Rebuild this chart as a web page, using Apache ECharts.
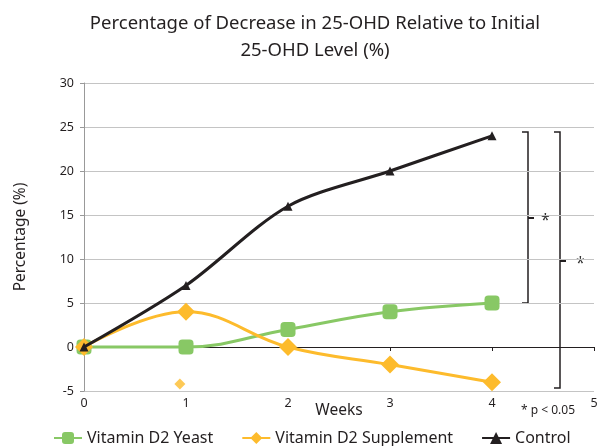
<!DOCTYPE html>
<html>
<head>
<meta charset="utf-8">
<script src="https://cdn.jsdelivr.net/npm/echarts@6/dist/echarts.min.js"></script>
<style>
  html, body { margin: 0; padding: 0; background: #fff; }
  #chart { width: 599px; height: 446px; }
</style>
</head>
<body>
<div id="chart"></div>
<script>
// 数据
const weeks = [0, 1, 2, 3, 4];
const yeast = [0, 0, 2, 4, 5];
const supplement = [0, 4, 0, -2, -4];
const control = [0, 7, 16, 20, 24];
// 图中多出来的一个黄色菱形点
const strayPoint = [[0.94, -4.2]];

const pair = (ys) => weeks.map((w, i) => [w, ys[i]]);
const font = 'Noto Sans';

const chart = echarts.init(document.getElementById('chart'));

// 右侧括号（注释）
function bracket(x, yTop, yBot, yMid, starX) {
  return [
    {
      type: 'polyline',
      shape: { points: [[x - 6, yTop], [x, yTop], [x, yBot], [x - 6, yBot]] },
      style: { stroke: '#231f20', lineWidth: 1.5, fill: null }
    },
    {
      type: 'line',
      shape: { x1: x, y1: yMid, x2: x + 6, y2: yMid },
      style: { stroke: '#231f20', lineWidth: 2 }
    },
    {
      type: 'text',
      x: starX, y: yMid - 6,
      style: { text: '*', fontSize: 16, fill: '#333', fontFamily: font }
    }
  ];
}

chart.setOption({
  animation: false,
  title: {
    text: 'Percentage of Decrease in 25-OHD Relative to Initial\n25-OHD Level (%)',
    left: 310,
    textAlign: 'center',
    top: 5,
    textStyle: { fontFamily: font, fontSize: 18.5, fontWeight: 'normal', color: '#231f20', lineHeight: 27 }
  },
  grid: { left: 84, right: 5, top: 83, bottom: 55, containLabel: false, outerBoundsMode: 'none' },
  legend: {
    top: 425,
    left: 48,
    itemGap: 28,
    itemWidth: 28,
    itemHeight: 15,
    data: ['Vitamin D2 Yeast', 'Vitamin D2 Supplement', 'Control'],
    textStyle: { fontFamily: font, fontSize: 16, color: '#231f20' }
  },
  xAxis: {
    type: 'value',
    min: 0, max: 5, interval: 1,
    name: 'Weeks',
    nameLocation: 'middle',
    nameGap: 12,
    nameMoveOverlap: false,
    nameTextStyle: { fontFamily: font, fontSize: 15.5, color: '#231f20' },
    axisLine: { onZero: true, lineStyle: { color: '#231f20', width: 1 } },
    axisTick: { show: true, length: 4, lineStyle: { color: '#231f20' } },
    axisLabel: { fontFamily: font, fontSize: 12.5, color: '#231f20', margin: 6 },
    splitLine: { show: false }
  },
  yAxis: {
    type: 'value',
    min: -5, max: 30, interval: 5,
    name: 'Percentage (%)',
    nameLocation: 'middle',
    nameGap: 55,
    nameTextStyle: { fontFamily: font, fontSize: 15.5, color: '#231f20' },
    axisLine: { show: true, lineStyle: { color: '#999' } },
    axisTick: { show: true, length: 4, lineStyle: { color: '#999' } },
    axisLabel: { fontFamily: font, fontSize: 12.5, color: '#231f20', margin: 10 },
    splitLine: { lineStyle: { color: '#c4c4c4' } }
  },
  series: [
    {
      name: 'Vitamin D2 Yeast',
      type: 'line',
      smooth: 0.4,
      data: pair(yeast),
      symbol: 'roundRect',
      symbolSize: 15,
      itemStyle: { color: '#88c865' },
      lineStyle: { width: 3, color: '#88c865' },
      z: 2
    },
    {
      name: 'Vitamin D2 Supplement',
      type: 'line',
      smooth: 0.4,
      data: pair(supplement),
      symbol: 'diamond',
      symbolSize: 18,
      itemStyle: { color: '#fdbb2c' },
      lineStyle: { width: 3, color: '#fdbb2c' },
      z: 3
    },
    {
      name: 'Control',
      type: 'line',
      smooth: 0.3,
      data: pair(control),
      symbol: 'triangle',
      symbolSize: 9,
      itemStyle: { color: '#231f20' },
      lineStyle: { width: 3, color: '#231f20' },
      z: 4
    },
    {
      name: 'stray',
      type: 'scatter',
      data: strayPoint,
      symbol: 'diamond',
      symbolSize: 11,
      itemStyle: { color: '#fdbb2c' }
    }
  ],
  graphic: [
    ...bracket(528, 132, 303, 218, 541),
    ...bracket(560, 132, 388, 261, 576),
    {
      type: 'text',
      x: 521, y: 405,
      style: { text: '* p < 0.05', fontSize: 12, fill: '#231f20', fontFamily: font }
    }
  ]
});
</script>
</body>
</html>
